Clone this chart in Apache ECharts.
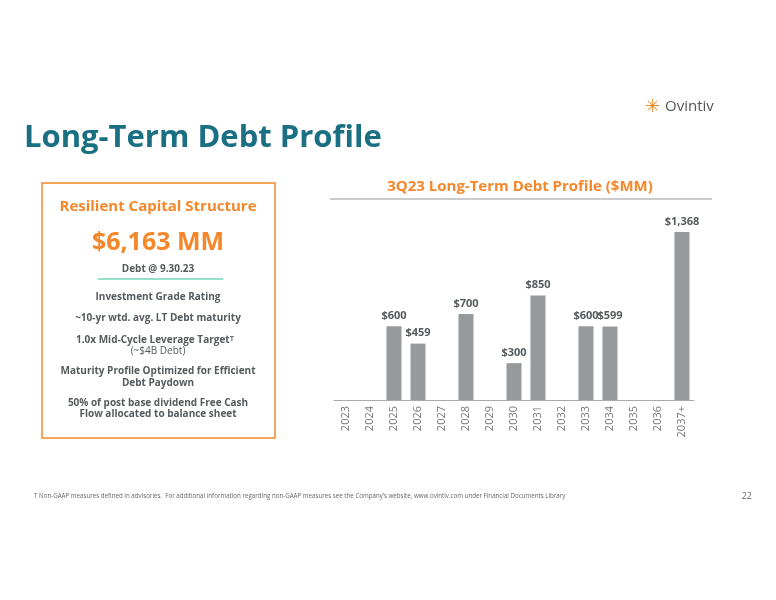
<!DOCTYPE html>
<html><head><meta charset="utf-8">
<script src="https://cdn.jsdelivr.net/npm/echarts@6/dist/echarts.min.js"></script>
<style>html,body{margin:0;padding:0;background:#fff}#c{width:776px;height:600px}</style>
</head><body><div id="c"></div>
<script>
const categories = ['2023','2024','2025','2026','2027','2028','2029','2030','2031','2032','2033','2034','2035','2036','2037+'];
const debtValues = [null,null,600,459,null,700,null,300,850,null,600,599,null,null,1368];
const valueLabels = ['','','$600','$459','','$700','','$300','$850','','$600','$599','','','$1,368'];

const F = '"Open Sans", sans-serif';
const orange = '#f5872a', teal = '#1b6f83', gray = '#555a5e';
const chart = echarts.init(document.getElementById('c'));
const t = (x,y,text,size,color,weight,align) => ({type:'text',x,y,style:{text,font:`${weight||'bold'} ${size}px ${F}`,fill:color,textAlign:align||'center',textVerticalAlign:'middle'}});
chart.setOption({
  animation:false,
  grid:{left:334,right:82,top:228,bottom:200},
  xAxis:{type:'category',data:categories,
    axisLine:{lineStyle:{color:'#aaaaaa'}},axisTick:{show:false},
    axisLabel:{rotate:90,color:'#777',fontSize:11,fontFamily:F,margin:6}},
  yAxis:{type:'value',min:0,max:1400,show:false,splitLine:{show:false}},
  series:[{type:'bar',data:debtValues,barWidth:15,itemStyle:{color:'#979a9c'},
    label:{show:true,position:'top',distance:5,color:gray,fontWeight:'bold',fontSize:11,fontFamily:F,
      formatter:p=>valueLabels[p.dataIndex]}}],
  graphic:[
    t(24,138,'Long-Term Debt Profile',31,teal,'bold','left'),
    t(520,187,'3Q23 Long-Term Debt Profile ($MM)',15,orange),
    {type:'line',shape:{x1:330,y1:199,x2:712,y2:199},style:{stroke:'#999',lineWidth:1}},
    {type:'rect',shape:{x:42,y:183,width:233,height:255},style:{fill:'none',stroke:orange,lineWidth:1.5}},
    t(158,207,'Resilient Capital Structure',15,orange),
    t(158,243,'$6,163 MM',25,orange),
    t(158,269,'Debt @ 9.30.23',10,gray),
    {type:'line',shape:{x1:98,y1:279,x2:223,y2:279},style:{stroke:'#6fd6b8',lineWidth:1.5}},
    t(158,297,'Investment Grade Rating',10,gray),
    t(158,318,'~10-yr wtd. avg. LT Debt maturity',10,gray),
    t(155,340,'1.0x Mid-Cycle Leverage Target\u1D40',10,gray),
    t(158,351,'(~$4B Debt)',10,gray,'normal'),
    t(158,371,'Maturity Profile Optimized for Efficient',10,gray),
    t(158,383,'Debt Paydown',10,gray),
    t(158,403,'50% of post base dividend Free Cash',10,gray),
    t(158,414,'Flow allocated to balance sheet',10,gray),
    t(34,496,'T Non-GAAP measures defined in advisories.  For additional information regarding non-GAAP measures see the Company\u2019s website, www.ovintiv.com under Financial Documents Library',6.2,'#666','normal','left'),
    t(752,496,'22',9,'#666','normal','right'),
    t(665,107,'Ovintiv',15,'#555','normal','left'),
    t(652,107,'\u2733',18,orange,'normal','center')
  ]
});
</script></body></html>
